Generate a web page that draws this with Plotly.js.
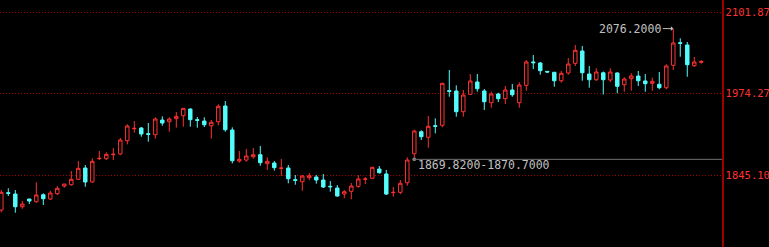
<!DOCTYPE html>
<html>
<head>
<meta charset="utf-8">
<script src="https://cdn.plot.ly/plotly-3.0.1.min.js"></script>
<style>
html,body{margin:0;padding:0;background:#000;}
#chart{width:769px;height:247px;}
</style>
</head>
<body>
<div id="chart"></div>
<script>
const open = [1790.4,1817.7,1815.6,1795.6,1807.8,1803.5,1814.5,1807.8,1816.1,1828.2,
1830.3,1838.8,1856.6,1834.6,1871.3,1871.3,1877.6,1878.7,1899.6,1918.5,
1919.6,1910.6,1909.1,1932.2,1929.5,1934.3,1939.0,1949.5,1932.7,1930.6,
1923.2,1929.5,1954.3,1916.5,1867.6,1869.2,1874.4,1877.6,1863.4,1864.5,
1856.1,1856.6,1838.2,1835.0,1841.3,1842.4,1837.7,1827.8,1825.1,1815.6,
1819.9,1827.8,1838.8,1840.4,1855.0,1847.2,1817.7,1818.3,1833.4,1879.1,
1913.8,1905.0,1923.2,1923.9,1978.4,1977.9,1945.3,1972.7,1992.1,1977.9,
1959.5,1973.2,1965.8,1979.5,1959.5,1986.9,2023.6,2022.0,2008.9,2007.4,
1994.1,2006.3,2021.5,2040.9,2004.7,1995.7,2006.6,1995.2,2006.3,1987.8,
1997.3,2001.5,1993.7,1990.0,1988.5,1983.1,2018.4,2054.0,2050.4,2017.8,
2023.1];
const high = [1821.9,1824.6,1821.9,1804.6,1807.8,1834.1,1816.7,1820.8,1828.2,1831.4,
1851.9,1867.6,1861.3,1871.9,1883.4,1881.3,1888.1,1903.9,1925.4,1930.6,
1921.2,1927.5,1936.5,1938.0,1936.5,1944.8,1950.6,1950.6,1936.9,1936.5,
1932.2,1957.0,1962.1,1920.7,1883.4,1886.5,1888.1,1891.3,1873.5,1867.6,
1870.8,1861.3,1845.6,1845.6,1848.7,1845.6,1847.2,1836.1,1829.8,1821.9,
1833.0,1845.1,1842.4,1858.7,1859.8,1853.5,1826.7,1837.7,1873.5,1916.9,
1916.0,1938.5,1934.9,1991.0,2011.0,1986.9,1979.5,2004.7,2004.7,1981.1,
1976.8,1975.2,1985.8,1988.9,1991.6,2026.7,2034.6,2023.6,2008.9,2007.4,
2009.4,2029.9,2050.4,2048.8,2017.3,2013.7,2008.6,2013.7,2007.4,1999.5,
2005.8,2009.4,2004.7,1998.9,2007.8,2020.0,2076.2,2060.9,2055.1,2031.5,
2026.7];
const low = [1786.8,1812.5,1786.2,1792.5,1799.9,1801.9,1798.3,1806.2,1814.1,1825.6,
1828.7,1837.7,1827.1,1833.4,1869.2,1869.2,1869.2,1877.1,1893.9,1912.2,
1905.9,1898.0,1902.8,1923.2,1913.8,1920.1,1921.7,1921.7,1920.1,1921.2,
1902.8,1923.9,1913.8,1864.0,1865.0,1866.5,1871.3,1860.2,1853.5,1852.4,
1844.0,1832.5,1830.3,1820.8,1837.7,1831.9,1825.1,1819.3,1811.4,1808.9,
1807.3,1825.6,1831.4,1839.3,1847.6,1814.1,1811.4,1815.2,1828.7,1869.82,
1900.7,1888.6,1911.3,1920.7,1968.9,1937.4,1937.4,1972.7,1976.8,1948.0,
1951.6,1960.6,1957.4,1968.9,1951.6,1978.4,2012.6,2003.6,2006.7,1984.7,
1991.0,2003.6,2017.3,1994.1,1983.1,1993.7,1972.4,1992.1,1974.3,1976.8,
1978.4,1985.8,1976.8,1978.4,1980.6,1980.6,2011.0,2031.9,2000.4,2015.7,
2020.9];
const close = [1818.3,1816.7,1795.6,1799.9,1804.6,1814.1,1808.2,1817.2,1824.6,1831.4,
1838.8,1856.1,1834.6,1867.2,1871.9,1878.2,1878.2,1900.7,1922.8,1919.1,
1910.2,1909.7,1933.8,1927.5,1933.8,1938.0,1950.6,1932.7,1931.7,1924.8,
1928.6,1953.8,1916.9,1868.1,1870.3,1875.5,1877.6,1865.0,1867.2,1857.1,
1856.4,1839.7,1837.2,1844.0,1844.5,1837.7,1826.7,1827.1,1812.5,1819.3,
1828.2,1839.3,1839.3,1857.7,1849.2,1815.6,1818.3,1832.5,1869.2,1914.9,
1905.9,1922.3,1922.3,1990.0,1977.4,1945.3,1971.6,1993.7,1981.5,1961.0,
1973.2,1965.8,1979.5,1972.1,1987.4,2023.6,2022.5,2009.9,2007.8,1994.1,
2005.8,2020.4,2042.0,2006.7,1995.7,2007.8,1995.7,2007.8,1985.3,1996.8,
2001.5,1994.1,1989.4,1993.2,1983.1,2017.3,2053.5,2053.0,2019.3,2023.6,
2024.4];
const tickVals = [1845.10, 1974.27, 2101.87];
const tickLabels = ["1845.10", "1974.27", "2101.87"];
const rangeLow = 1869.82, rangeHigh = 1870.70;
const rangeLabel = "1869.8200-1870.7000";
const peakValue = 2076.2;
const peakLabel = "2076.2000";

const idx = open.map((_, i) => i);
const peakIdx = high.indexOf(peakValue);
const lowIdx = low.indexOf(rangeLow);
const midRange = (rangeLow + rangeHigh) / 2;

const RED = '#ff3232', CYAN = '#54fcfc', GRAY = '#c0c0c0';
const monoFont = 'DejaVu Sans Mono, Liberation Mono, monospace';

const traces = [
  {
    type: 'candlestick', x: idx, open: open, high: high, low: low, close: close,
    increasing: {line: {color: RED, width: 1}, fillcolor: '#000000'},
    decreasing: {line: {color: CYAN, width: 1}, fillcolor: CYAN},
    whiskerwidth: 0, hoverinfo: 'skip', showlegend: false
  },
  {
    type: 'scatter', mode: 'markers', x: [lowIdx], y: [midRange],
    marker: {symbol: 'square', size: 3, color: '#909090'},
    hoverinfo: 'skip', showlegend: false
  }
];

const layout = {
  width: 769, height: 247,
  margin: {l: 0, r: 47, t: 0, b: 0, pad: 0},
  paper_bgcolor: '#000000', plot_bgcolor: '#000000',
  showlegend: false,
  xaxis: {
    range: [-0.186, 102.96], showgrid: false, zeroline: false,
    showticklabels: false, ticks: '', showline: false,
    rangeslider: {visible: false}, fixedrange: true
  },
  yaxis: {
    range: [1732.2, 2121.25], side: 'right',
    tickmode: 'array', tickvals: tickVals, ticktext: tickLabels,
    tickfont: {family: monoFont, size: 10.5, color: RED},
    ticks: '', showgrid: true, gridcolor: '#a00000', gridwidth: 1,
    griddash: '1px,2px', zeroline: false,
    showline: true, linecolor: '#a00000', linewidth: 1.5, fixedrange: true
  },
  shapes: [
    {type: 'line', xref: 'x', yref: 'y', x0: lowIdx - 0.3, x1: 102.96,
     y0: midRange, y1: midRange, line: {color: '#707070', width: 1}}
  ],
  annotations: [
    {x: lowIdx, y: midRange, xref: 'x', yref: 'y', text: rangeLabel,
     showarrow: false, xanchor: 'left', yanchor: 'top', xshift: 2, yshift: 3,
     font: {family: monoFont, size: 11.5, color: GRAY}},
    {x: peakIdx, y: peakValue, xref: 'x', yref: 'y', text: peakLabel,
     showarrow: true, ax: -43, ay: 0, arrowcolor: GRAY, arrowwidth: 1,
     arrowhead: 1, arrowsize: 0.8, standoff: 0,
     font: {family: monoFont, size: 11.5, color: GRAY}}
  ]
};

Plotly.newPlot('chart', traces, layout, {displayModeBar: false, staticPlot: true});
</script>
</body>
</html>
